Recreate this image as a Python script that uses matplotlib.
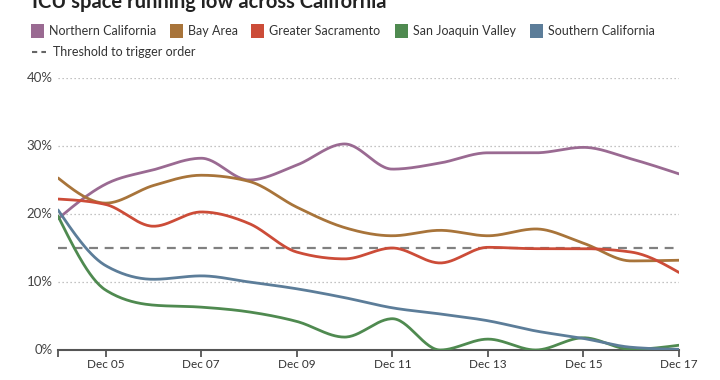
import numpy as np
import matplotlib
matplotlib.use("Agg")
import matplotlib.pyplot as plt
from matplotlib.patches import Rectangle
from matplotlib.lines import Line2D

plt.rcParams['font.family'] = ['Lato', 'DejaVu Sans']

days = list(range(4, 18))  # Dec 04 .. Dec 17
tick_days = [5, 7, 9, 11, 13, 15, 17]
tick_labels = ["Dec %02d" % d for d in tick_days]

northern = [19.3, 24.4, 26.5, 28.2, 25.0, 27.2, 30.3, 26.6, 27.5, 29.0, 29.0, 29.8, 28.1, 25.9]
bay_area = [25.3, 21.6, 24.2, 25.7, 24.8, 21.0, 18.0, 16.8, 17.6, 16.8, 17.8, 15.7, 13.1, 13.2]
sacramento = [22.2, 21.4, 18.2, 20.3, 18.6, 14.4, 13.4, 15.0, 12.8, 15.1, 14.9, 14.9, 14.4, 11.4]
san_joaquin = [19.7, 8.8, 6.6, 6.3, 5.6, 4.2, 1.9, 4.6, 0.0, 1.6, 0.0, 1.8, 0.1, 0.7]
southern = [20.6, 12.4, 10.4, 10.9, 10.0, 9.0, 7.7, 6.2, 5.3, 4.3, 2.8, 1.7, 0.4, 0.1]
threshold = 15

names = ["Northern California", "Bay Area", "Greater Sacramento", "San Joaquin Valley", "Southern California"]
series = [northern, bay_area, sacramento, san_joaquin, southern]
colors = ["#9a6a92", "#a8743a", "#cc4c38", "#4f8a50", "#5c7d99"]


def monotone(x, y, n=30):
	# d3 style monotoneX curve, only for drawing smooth lines through the points
	x = np.asarray(x, float)
	y = np.asarray(y, float)
	h = np.diff(x)
	s = np.diff(y) / h
	m = np.zeros(len(x))
	for i in range(1, len(x) - 1):
		if s[i - 1] * s[i] <= 0:
			m[i] = 0
		else:
			p = (s[i - 1] * h[i] + s[i] * h[i - 1]) / (h[i - 1] + h[i])
			m[i] = np.sign(s[i - 1]) * min(abs(s[i - 1]), abs(s[i]), 0.5 * abs(p)) * 2
	m[0] = (3 * s[0] - m[1]) / 2
	m[-1] = (3 * s[-1] - m[-2]) / 2
	xs, ys = [], []
	for i in range(len(x) - 1):
		t = np.linspace(0, 1, n, endpoint=False)
		h00 = 2 * t**3 - 3 * t**2 + 1
		h10 = t**3 - 2 * t**2 + t
		h01 = -2 * t**3 + 3 * t**2
		h11 = t**3 - t**2
		xs.append(x[i] + t * h[i])
		ys.append(h00 * y[i] + h10 * h[i] * m[i] + h01 * y[i + 1] + h11 * h[i] * m[i + 1])
	xs.append([x[-1]])
	ys.append([y[-1]])
	return np.concatenate(xs), np.concatenate(ys)


fig = plt.figure(figsize=(7.2, 3.8), dpi=100)
ax = fig.add_axes([58 / 720, 1 - 350 / 380, (679 - 58) / 720, (350 - 78) / 380])

for v in [10, 20, 30, 40]:
	ax.axhline(v, color="#b0b0b0", lw=0.9, ls=(0, (1, 2.2)), zorder=1)

ax.axhline(threshold, color="#808080", lw=1.6, ls=(0, (4, 3)), zorder=2)

for vals, c in zip(series, colors):
	xs, ys = monotone(days, vals)
	ax.plot(xs, ys, color=c, lw=2, zorder=3, solid_capstyle="round")

ax.set_xlim(4, 17)
ax.set_ylim(0, 40)
ax.set_yticks([0, 10, 20, 30, 40])
ax.set_yticklabels(["0%", "10%", "20%", "30%", "40%"])
ax.set_xticks([4] + tick_days)
ax.set_xticklabels([""] + tick_labels)
for s in ["top", "right", "left"]:
	ax.spines[s].set_visible(False)
ax.spines["bottom"].set_color("#555555")
ax.spines["bottom"].set_linewidth(1.5)
ax.tick_params(axis="y", length=0, pad=4, labelsize=9.5, labelcolor="#444444")
ax.tick_params(axis="x", length=5, width=1.3, color="#555555", pad=1.5, labelsize=8.5, labelcolor="#333333")
for lab in ax.get_yticklabels():
	lab.set_verticalalignment("center")

fig.text(0.044, 1 - 2 / 380, "ICU space running low across California", fontsize=14.5, fontweight="bold",
	color="#222222", va="center", ha="left")

# legend
lx = [31, 170, 251, 395, 530]
for x0, name, c in zip(lx, names, colors):
	fig.patches.append(Rectangle((x0 / 720, 1 - 38 / 380), 13 / 720, 14 / 380, transform=fig.transFigure,
		facecolor=c, edgecolor="none"))
	fig.text((x0 + 18) / 720, 1 - 31 / 380, name, fontsize=9, color="#333333", va="center", ha="left")
fig.lines.append(Line2D([32 / 720, 46 / 720], [1 - 52 / 380] * 2, transform=fig.transFigure,
	color="#666666", lw=1.5, ls=(0, (2.5, 2))))
fig.text(53 / 720, 1 - 52 / 380, "Threshold to trigger order", fontsize=9, color="#333333", va="center", ha="left")

fig.savefig("out.png", dpi=100)
